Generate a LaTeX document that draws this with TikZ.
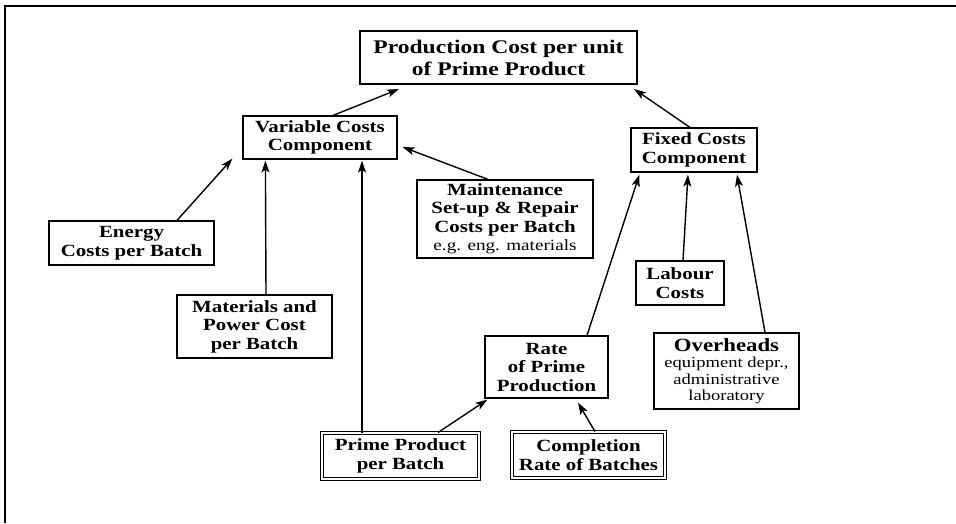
\documentclass[tikz,border=0pt]{standalone}
\usepackage{fontspec}
\setmainfont{Liberation Serif}[FakeStretch=1.22]
\usetikzlibrary{arrows.meta,calc}
\tikzset{
  box/.style={draw, line width=1.2pt, inner sep=0pt, align=center,
    font=\bfseries\fontsize{17.1}{18.5}\selectfont},
  dbox/.style={box, double, double distance=1.6pt, line width=0.9pt},
  conn/.style={line width=1.4pt, -{Stealth[length=12pt,width=8pt,inset=3pt]}},
  plain/.style={line width=1.4pt}
}
\begin{document}
\begin{tikzpicture}[x=1pt,y=-1pt]
\useasboundingbox (0,0) rectangle (956,523);
% frame
\draw[line width=2pt] (4,6) -- (956,6);
\draw[line width=1.5pt] (5,5) -- (5,523);

\node[box, line width=2pt, minimum width=277pt, minimum height=53pt,
  font=\bfseries\fontsize{19.3}{22}\selectfont] (top) at (498.5,57.5)
  {Production Cost per unit\\of Prime Product};
\node[box, minimum width=154pt, minimum height=43pt] (var) at (320,137.5)
  {Variable Costs\\Component};
\node[box, minimum width=126pt, minimum height=44pt] (fixed) at (694,150)
  {Fixed Costs\\Component};
\node[box, minimum width=165pt, minimum height=44pt] (energy) at (131.5,243)
  {Energy\\Costs per Batch};
\node[box, minimum width=176pt, minimum height=78pt] (maint) at (505,219)
  {Maintenance\\Set-up \& Repair\\Costs per Batch\\{\mdseries\fontsize{15.7}{17}\selectfont e.g. eng. materials}};
\node[box, minimum width=155pt, minimum height=63pt] (mat) at (254.5,326.5)
  {Materials and\\Power Cost\\per Batch};
\node[box, minimum width=88pt, minimum height=44pt] (labour) at (680,283)
  {Labour\\Costs};
\node[box, minimum width=123pt, minimum height=62pt] (rate) at (546.5,367)
  {Rate\\of Prime\\Production};
\node[box, minimum width=145pt, minimum height=76pt,
  font=\mdseries\fontsize{15.2}{16.5}\selectfont] (over) at (726.5,371)
  {{\bfseries\fontsize{18.7}{19}\selectfont Overheads}\\equipment depr.,\\administrative\\laboratory};
\node[dbox, minimum width=157pt, minimum height=46pt] (prime) at (400.5,456)
  {Prime Product\\per Batch};
\node[dbox, minimum width=153pt, minimum height=46pt] (comp) at (588.5,455)
  {Completion\\Rate of Batches};

% connectors
\draw[conn] ([xshift=13pt]var.north) -- ([xshift=40pt,yshift=-4pt]top.south west);
\draw[conn] ([xshift=-4pt]fixed.north) -- ([xshift=-4pt,yshift=-4pt]top.south east);
\draw[conn] ([xshift=45.5pt]energy.north) -- ([xshift=-10pt,yshift=1pt]var.south west);
\draw[conn] ([xshift=11.5pt]mat.north) -- ([xshift=23pt,yshift=-1pt]var.south west);
\draw[conn] ([xshift=-38.5pt]prime.north) -- ([xshift=42pt,yshift=-1pt]var.south);
\draw[conn] ([xshift=-17pt]maint.north) -- ([xshift=5pt,yshift=-9.5pt]var.east);
\draw[conn] ([xshift=37.5pt]prime.north) -- ([xshift=3pt,yshift=-1pt]rate.south west);
\draw[conn] ([xshift=6.5pt]comp.north) -- ([xshift=31.5pt,yshift=-4pt]rate.south);
\draw[conn] ([xshift=40.5pt]rate.north) -- ([xshift=9pt,yshift=-2pt]fixed.south west);
\draw[conn] ([xshift=3pt]labour.north) -- ([xshift=-6pt,yshift=-2pt]fixed.south);
\draw[conn] ([xshift=38.5pt]over.north) -- ([xshift=43pt,yshift=-2pt]fixed.south);
\end{tikzpicture}
\end{document}
